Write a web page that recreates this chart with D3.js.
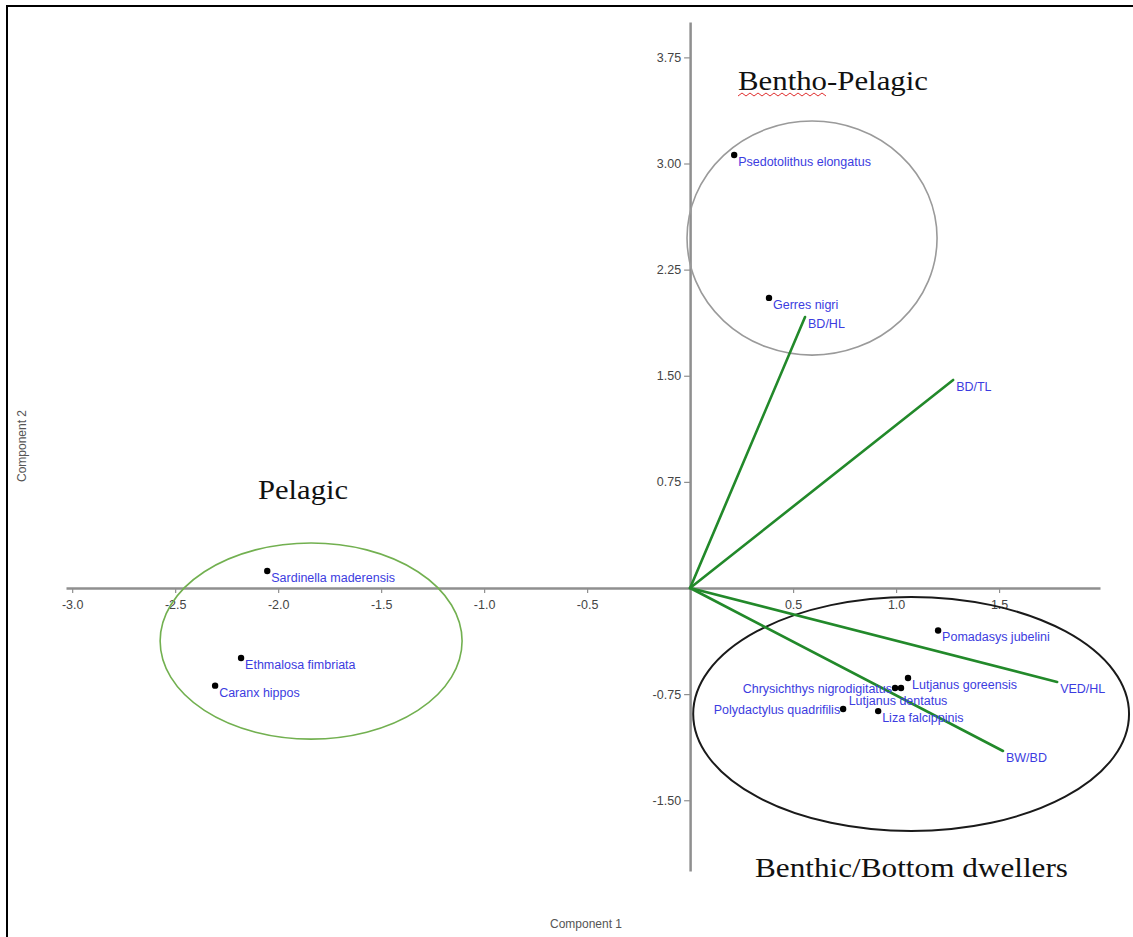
<!DOCTYPE html>
<html>
<head>
<meta charset="utf-8">
<script src="https://cdn.jsdelivr.net/npm/d3@7/dist/d3.min.js"></script>
<style>
  html, body { margin: 0; padding: 0; background: #fff; }
  svg { display: block; }
</style>
</head>
<body>
<script>
// PCA biplot: species scores, morphometric loadings and habitat groupings

// Species scores (Component 1, Component 2)
const species = ["Psedotolithus elongatus", "Gerres nigri", "Sardinella maderensis",
  "Ethmalosa fimbriata", "Caranx hippos", "Pomadasys jubelini", "Lutjanus goreensis",
  "Chrysichthys nigrodigitatus", "Lutjanus dentatus", "Polydactylus quadrifilis", "Liza falcippinis"];
const pc1 = [0.214, 0.383, -2.053, -2.18, -2.306, 1.204, 1.058, 0.995, 1.024, 0.743, 0.913];
const pc2 = [3.06, 2.05, 0.12, -0.495, -0.69, -0.30, -0.636, -0.707, -0.707, -0.855, -0.87];
// label placement: "r" right of the dot, "l" left of it, "b" centred below
const labelSide = ["r", "r", "r", "r", "r", "r", "r", "l", "b", "l", "r"];

// Variable loadings
const variables = ["BD/HL", "BD/TL", "VED/HL", "BW/BD"];
const load1 = [0.558, 1.277, 1.782, 1.519];
const load2 = [1.915, 1.47, -0.664, -1.152];

// Habitat group ellipses (centre and radii in component units)
const groups = ["Bentho-Pelagic", "Pelagic", "Benthic/Bottom dwellers"];
const groupCx = [0.592, -1.84, 1.073];
const groupCy = [2.473, -0.375, -0.89];
const groupRx = [0.607, 0.733, 1.058];
const groupRy = [0.827, 0.693, 0.827];
const groupColor = ["#9a9a9a", "#72b050", "#1a1a1a"];

// Axis ticks
const xTicks = [-3.0, -2.5, -2.0, -1.5, -1.0, -0.5, 0.5, 1.0, 1.5];
const yTicks = [-1.5, -0.75, 0.75, 1.5, 2.25, 3.0, 3.75];

const W = 1133, H = 937;
const svg = d3.select("body").append("svg").attr("width", W).attr("height", H);

// frame (top and left edges)
svg.append("path").attr("d", `M7,${H} L7,6 L${W},6`)
  .attr("fill", "none").attr("stroke", "#000").attr("stroke-width", 2);

const x = d3.scaleLinear().domain([-3.03, 1.99]).range([66, 1100]);
const y = d3.scaleLinear().domain([-2.0, 4.0]).range([871, 22]);

const tickFont = "'Liberation Sans', Arial, sans-serif";

// horizontal axis through the origin
const xAxis = svg.append("g")
  .attr("transform", `translate(0,${y(0)})`)
  .call(d3.axisBottom(x).tickValues(xTicks).tickSize(5).tickSizeOuter(0)
    .tickPadding(7).tickFormat(v => v.toFixed(1)));
// vertical axis through the origin
const yAxis = svg.append("g")
  .attr("transform", `translate(${x(0)},0)`)
  .call(d3.axisLeft(y).tickValues(yTicks).tickSize(6).tickSizeOuter(0)
    .tickPadding(3).tickFormat(v => v.toFixed(2)));

[xAxis, yAxis].forEach(g => {
  g.select(".domain").attr("stroke", "#8f8f8f").attr("stroke-width", 2.5);
  g.selectAll(".tick line").attr("stroke", "#8f8f8f").attr("stroke-width", 1.2);
  g.selectAll(".tick text").attr("fill", "#444").attr("font-size", 12.5)
    .attr("font-family", tickFont);
});

// axis titles
svg.append("text").attr("x", 586).attr("y", 928).attr("text-anchor", "middle")
  .attr("font-family", tickFont).attr("font-size", 12).attr("fill", "#555")
  .text("Component 1");
svg.append("text").attr("transform", "translate(26,446) rotate(-90)")
  .attr("text-anchor", "middle")
  .attr("font-family", tickFont).attr("font-size", 12).attr("fill", "#555")
  .text("Component 2");

// group ellipses
svg.append("g").selectAll("ellipse").data(groups).join("ellipse")
  .attr("cx", (d, i) => x(groupCx[i]))
  .attr("cy", (d, i) => y(groupCy[i]))
  .attr("rx", (d, i) => x(groupRx[i]) - x(0))
  .attr("ry", (d, i) => y(0) - y(groupRy[i]))
  .attr("fill", "none")
  .attr("stroke", (d, i) => groupColor[i])
  .attr("stroke-width", (d, i) => i === 2 ? 2 : 1.6);

// loading vectors
const labelColor = "#3c3ce0";
svg.append("g").selectAll("line").data(variables).join("line")
  .attr("x1", x(0)).attr("y1", y(0))
  .attr("x2", (d, i) => x(load1[i])).attr("y2", (d, i) => y(load2[i]))
  .attr("stroke", "#22892a").attr("stroke-width", 2.6).attr("stroke-linecap", "round");
svg.append("g").selectAll("text").data(variables).join("text")
  .attr("x", (d, i) => x(load1[i]) + 3)
  .attr("y", (d, i) => y(load2[i]) + 11)
  .attr("font-family", tickFont).attr("font-size", 12.5).attr("fill", labelColor)
  .text(d => d);

// species points
svg.append("g").selectAll("circle").data(species).join("circle")
  .attr("cx", (d, i) => x(pc1[i])).attr("cy", (d, i) => y(pc2[i]))
  .attr("r", 3.2).attr("fill", "#000");
svg.append("g").selectAll("text").data(species).join("text")
  .attr("x", (d, i) => {
    const px = x(pc1[i]);
    return labelSide[i] === "l" ? px - 3 : labelSide[i] === "b" ? px - 3 : px + 4;
  })
  .attr("y", (d, i) => {
    const py = y(pc2[i]);
    return labelSide[i] === "l" ? py + 5 : labelSide[i] === "b" ? py + 17 : py + 11;
  })
  .attr("text-anchor", (d, i) => labelSide[i] === "l" ? "end" : labelSide[i] === "b" ? "middle" : "start")
  .attr("font-family", tickFont).attr("font-size", 12.5).attr("fill", labelColor)
  .text(d => d);

// group titles
const serif = "'Liberation Serif', 'Times New Roman', serif";
const titlePos = [[738, 90, 190], [258, 499, 90], [755, 877, 313]];
svg.append("g").selectAll("text").data(groups).join("text")
  .attr("x", (d, i) => titlePos[i][0]).attr("y", (d, i) => titlePos[i][1])
  .attr("textLength", (d, i) => titlePos[i][2])
  .attr("lengthAdjust", "spacingAndGlyphs")
  .attr("font-family", serif).attr("font-size", 27).attr("fill", "#111")
  .text(d => d);

// spell-check squiggle under "Bentho"
const squiggle = d3.range(0, 23).map(k => [738 + k * 4, k % 2 ? 93 : 96]);
svg.append("path").attr("d", d3.line()(squiggle))
  .attr("fill", "none").attr("stroke", "#e03030").attr("stroke-width", 1);
</script>
</body>
</html>
